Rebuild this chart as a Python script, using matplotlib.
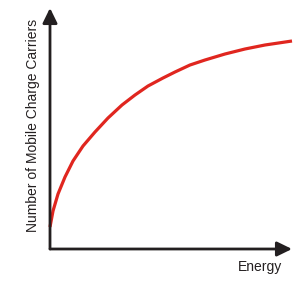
import matplotlib
matplotlib.use("Agg")
import matplotlib.pyplot as plt

# values (arbitrary units)
energy = [0, 3, 8, 15, 23, 33, 45, 58, 72, 85, 98, 113, 125, 140, 155, 175, 195, 215, 242]
carriers = [22, 38, 55, 72, 88, 103, 117, 131, 144, 154, 163, 171, 177, 184, 189, 195, 200, 204, 208]

x_label = "Energy"
y_label = "Number of Mobile Charge Carriers"

plt.rcParams["font.family"] = ["Liberation Sans", "DejaVu Sans"]

fig = plt.figure(figsize=(3, 3), dpi=100)
ax = fig.add_axes([50 / 300, 51 / 300, 242 / 300, 241 / 300])
ax.set_xlim(0, 242)
ax.set_ylim(0, 241)
ax.axis("off")

axis_col = "#231f20"
head = "-|>,head_length=0.45,head_width=0.22"
ax.annotate("", xy=(1, 0), xytext=(0, 0), xycoords="axes fraction",
            arrowprops=dict(arrowstyle=head, lw=2, color=axis_col, mutation_scale=20,
                            shrinkA=0, shrinkB=0))
ax.annotate("", xy=(0, 1), xytext=(0, 0), xycoords="axes fraction",
            arrowprops=dict(arrowstyle=head, lw=2, color=axis_col, mutation_scale=20,
                            shrinkA=0, shrinkB=0))

ax.plot(energy, carriers, color="#e0261f", lw=2.3, clip_on=False,
        solid_capstyle="butt", solid_joinstyle="round")

fig.text(282 / 300, 1 - 267 / 300, x_label, ha="right", va="center", fontsize=10, color="#231f20")
fig.text(33 / 300, 1 - 125 / 300, y_label, ha="center", va="center", rotation=90,
         fontsize=10, color="#231f20")

fig.savefig("out.png", dpi=100)
